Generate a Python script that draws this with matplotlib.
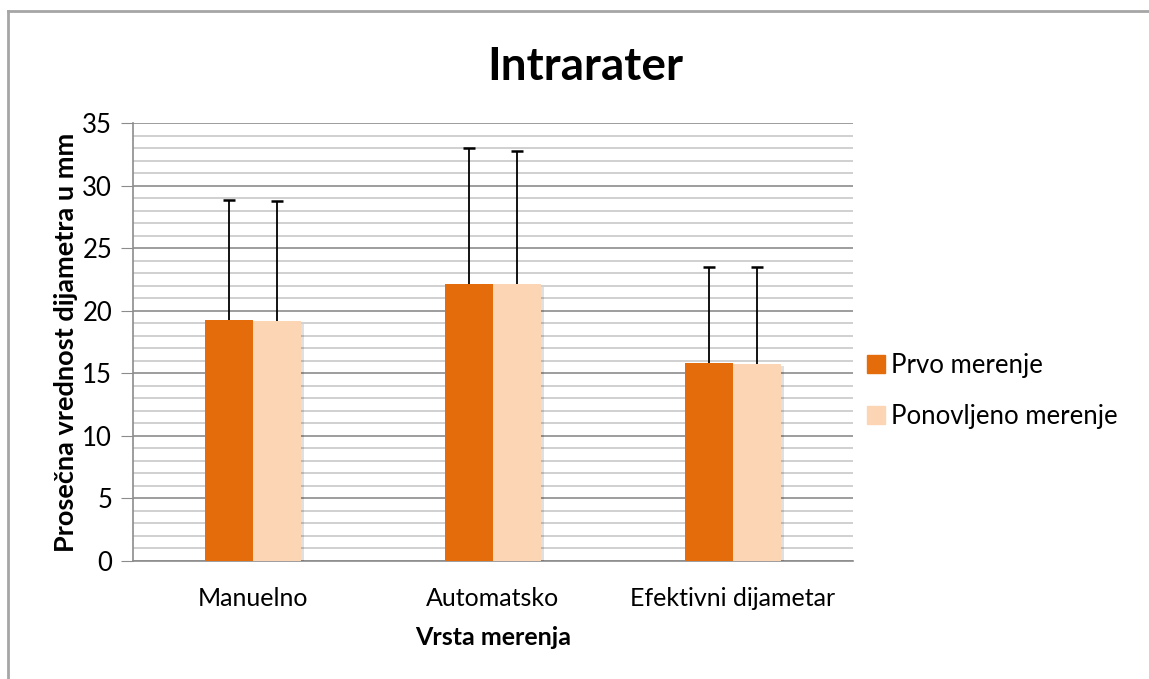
import numpy as np
import matplotlib.pyplot as plt
import matplotlib.patheffects as pe
from matplotlib.lines import Line2D

plt.rcParams['font.family'] = ['Lato', 'DejaVu Sans']

# podaci
kategorije = ['Manuelno', 'Automatsko', 'Efektivni dijametar']
prvo = [19.26, 22.17, 15.80]
ponovljeno = [19.16, 22.12, 15.78]
prvo_sd = [9.60, 10.82, 7.68]
ponovljeno_sd = [9.59, 10.68, 7.70]
serije = ['Prvo merenje', 'Ponovljeno merenje']
boje = ['#E46C0A', '#FCD5B5']

fig = plt.figure(figsize=(11.49, 6.79), dpi=100)
ax = fig.add_axes([133 / 1149, 1 - 561 / 679, 720 / 1149, 438 / 679])

x = np.arange(len(kategorije))
w = 0.2
senka = [pe.SimplePatchShadow(offset=(2, -2), shadow_rgbFace='#000000', alpha=0.12), pe.Normal()]

for i, (vals, sd) in enumerate([(prvo, prvo_sd), (ponovljeno, ponovljeno_sd)]):
    pos = x + (i - 0.5) * w
    bars = ax.bar(pos, vals, width=w, color=boje[i], label=serije[i], zorder=3)
    for b in bars:
        b.set_path_effects(senka)
    eb = ax.errorbar(pos, vals, yerr=[np.zeros(len(vals)), sd], fmt='none', ecolor='black',
                     elinewidth=1.3, capsize=4.5, capthick=1.8, zorder=4)
    eb[1][0].set_visible(False)  # samo gornji krak

ax.set_xlim(-0.5, 2.5)
ax.set_ylim(0, 35)
ax.set_yticks(np.arange(0, 36, 5))
ax.set_yticks(np.arange(0, 36, 1), minor=True)
ax.yaxis.grid(True, which='major', color='#8C8C8C', linewidth=1.2, zorder=0)
ax.yaxis.grid(True, which='minor', color='#C8C8C8', linewidth=1.2, zorder=0)
ax.set_xticks(x)
ax.set_xticklabels(kategorije, fontsize=18)
ax.tick_params(axis='x', length=0, pad=19)
ax.tick_params(axis='y', which='major', length=9, color='#8C8C8C', labelsize=18.5, pad=6, direction='out')
ax.tick_params(axis='y', which='minor', length=0)

for s in ['top', 'right']:
    ax.spines[s].set_visible(False)
ax.spines['left'].set_color('#8C8C8C')
ax.spines['bottom'].set_color('#8C8C8C')
ax.spines['left'].set_linewidth(1.2)
ax.spines['bottom'].set_linewidth(1.2)

ax.set_xlabel('Vrsta merenja', fontsize=18, fontweight='bold', labelpad=11)
ax.set_ylabel('Prosečna vrednost dijametra u mm', fontsize=19.5, fontweight='bold', labelpad=3)

fig.text(585 / 1149, 1 - 67 / 679, 'Intrarater', fontsize=33, fontweight='bold',
         ha='center', va='center')

handles = [Line2D([], [], marker='s', linestyle='none', markersize=13, color=c) for c in boje]
fig.legend(handles, serije, loc='center left', bbox_to_anchor=(840 / 1149, 1 - 391 / 679),
           frameon=False, fontsize=18.5, handletextpad=0.1, labelspacing=1.0, handlelength=1.0)

# okvir grafikona
fig.add_artist(Line2D([8 / 1149, 8 / 1149], [0, 1 - 11 / 679], color='#A6A6A6', linewidth=2))
fig.add_artist(Line2D([8 / 1149, 1], [1 - 11 / 679, 1 - 11 / 679], color='#A6A6A6', linewidth=2))

fig.savefig('out.png', dpi=100)
